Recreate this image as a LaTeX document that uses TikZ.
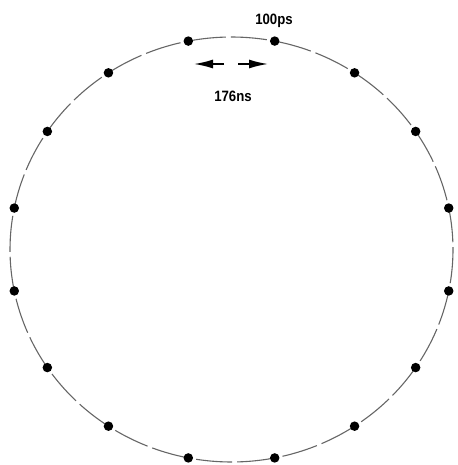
\documentclass[tikz,border=0pt]{standalone}
\usepackage{fontspec}
\setmainfont{Liberation Sans}
\usetikzlibrary{arrows.meta}
\begin{document}
\begin{tikzpicture}[x=1pt,y=-1pt,
  ringedge/.style={draw=black!60,line width=1.1pt,dash pattern=on 36pt off 5pt,dash phase=-8pt},
  ringdot/.style={circle,fill=black,inner sep=0pt,minimum size=9.5pt},
  dimarrow/.style={line width=1.6pt,-{Latex[length=19pt,width=9pt]}},
  lbl/.style={font=\fontsize{15}{15}\selectfont\bfseries,inner sep=0pt,xscale=0.88}]
\useasboundingbox (0,0) rectangle (457,465);
\foreach \k in {0,...,15}{
  \pgfmathsetmacro{\ang}{11.25+22.5*\k}
  \coordinate (c\k) at ({231.5+221.5*cos(\ang)},{249.5-212.5*sin(\ang)});
}
\foreach \k in {0,...,15}{
  \pgfmathsetmacro{\sa}{-(11.25+22.5*\k)}
  \pgfmathsetmacro{\ea}{-(11.25+22.5*(\k+1))}
  \draw[ringedge] (c\k) arc[start angle=\sa,end angle=\ea,x radius=221.5,y radius=212.5];
}
\foreach \k in {0,...,15}{
  \node[ringdot] (d\k) at (c\k) {};
}
\coordinate (al) at (224,64);
\coordinate (alt) at (194,64);
\coordinate (ar) at (238,64);
\coordinate (art) at (268,64);
\draw[dimarrow] (al) -- (alt);
\draw[dimarrow] (ar) -- (art);
\node[lbl,anchor=base] (t1) at (274,25) {100ps};
\node[lbl,anchor=base] (t2) at (233,102) {176ns};
\end{tikzpicture}
\end{document}
